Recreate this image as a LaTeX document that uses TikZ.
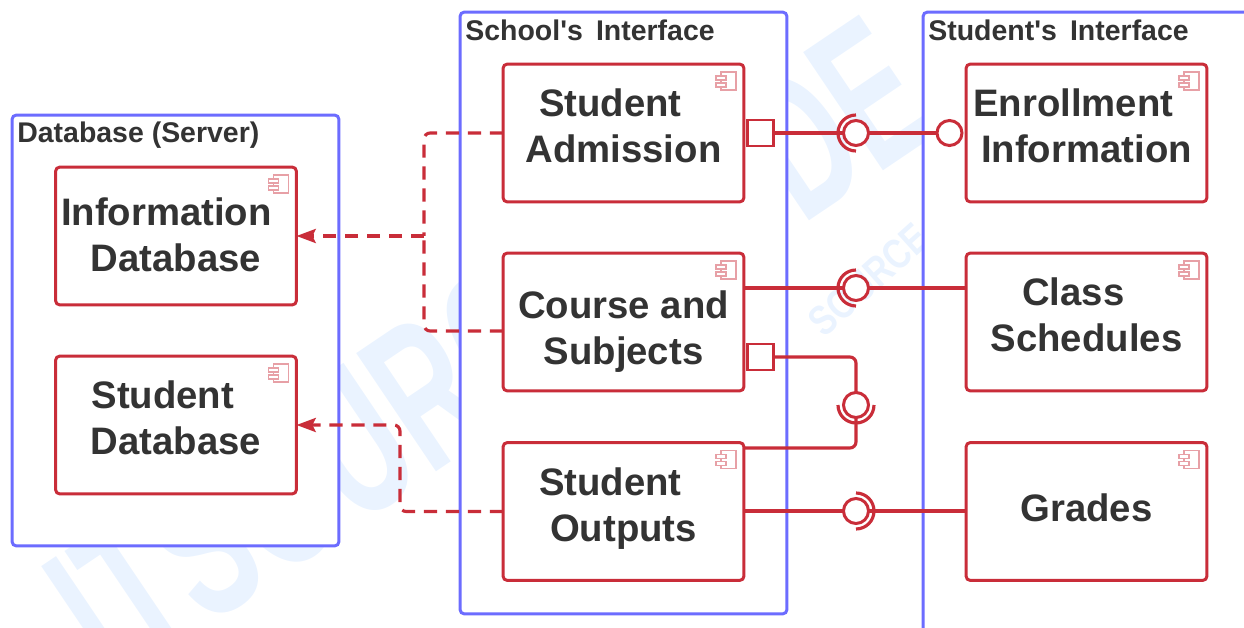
\documentclass[tikz,border=0pt]{standalone}
\usepackage{fontspec}
\setmainfont{Liberation Sans}
\usetikzlibrary{arrows.meta}
\definecolor{compred}{HTML}{C92D39}
\definecolor{frameblue}{HTML}{6C6CFF}
\definecolor{labelgrey}{HTML}{333333}
\definecolor{markblue}{HTML}{EAF3FF}

\begin{document}
\begin{tikzpicture}[x=0.02cm, y=-0.02cm,
    container/.style={
        rectangle,
        rounded corners=2.5pt,
        draw=frameblue,
        line width=1.7pt,
        fill=white,
        outer sep=0pt
    },
    comp_box/.style={
        rectangle,
        rounded corners=2.5pt,
        draw=compred,
        line width=1.7pt,
        fill=white,
        outer sep=0pt,
        minimum width=4.82cm,
        minimum height=2.76cm
    },
    comp_text/.style={
        font=\fontsize{21.8}{26}\selectfont\bfseries,
        text=labelgrey,
        align=center
    },
    frame_text/.style={
        font=\fontsize{16.2}{19}\selectfont\bfseries,
        text=labelgrey,
        anchor=west,
        inner sep=0pt
    },
    port/.style={
        rectangle,
        draw=compred,
        line width=1.7pt,
        fill=white,
        outer sep=0pt,
        minimum size=0.52cm
    },
    ball/.style={
        circle,
        draw=compred,
        line width=1.7pt,
        fill=white,
        outer sep=0pt,
        inner sep=0pt,
        minimum size=0.5cm
    },
    wire/.style={draw=compred, line width=1.8pt, rounded corners=3.5pt},
    depends/.style={wire, dash pattern=on 7.5pt off 5pt},
    watermark/.style={
        text=markblue,
        font=\bfseries,
        inner sep=0pt
    }
]
    \clip (0, 0) rectangle (1244, 628);
    \useasboundingbox (0, 0) rectangle (1244, 628);

    % watermark behind everything
    \node (mark_large) [watermark, shift={(490, 350)}, rotate=34, xscale=0.6]
    {
        \fontsize{118}{118}\selectfont ITSOURCECODE
    };
    \node (mark_small) [watermark, shift={(815, 328)}, anchor=west, rotate=42, xscale=0.8]
    {
        \fontsize{24}{24}\selectfont SOURCE CODE
    };

    % frames
    \node (database_frame) [container, shift={(175.5, 330.5)}, minimum width=6.54cm, minimum height=8.62cm] {};
    \node (school_frame) [container, shift={(623.5, 313)}, minimum width=6.54cm, minimum height=12.04cm] {};
    \node (student_frame) [container, shift={(1150, 350)}, minimum width=9.08cm, minimum height=13.52cm] {};
    \node (database_label) [frame_text, shift={(17, 135)}] {Database (Server)};
    \node (school_label) [frame_text, shift={(465, 30)}] {School\textquotesingle s\hspace{3pt} Interface};
    \node (student_label) [frame_text, shift={(928, 30)}] {Student\textquotesingle s\hspace{3pt} Interface};

    % components
    \node (information_database) [comp_box, shift={(176, 236)},
        label={[comp_text, yshift=0.5pt]center:{Information\hspace*{11pt}\\Database}}] {};
    \node (student_database) [comp_box, shift={(176, 425)},
        label={[comp_text, yshift=4pt]center:{Student\hspace*{15pt}\\Database}}] {};
    \node (student_admission) [comp_box, shift={(623.5, 133)},
        label={[comp_text, yshift=4pt]center:{Student\hspace*{15pt}\\Admission}}] {};
    \node (course_subjects) [comp_box, shift={(623.5, 322)},
        label={[comp_text, yshift=-5.5pt]center:{Course and\\Subjects}}] {};
    \node (student_outputs) [comp_box, shift={(623.5, 511.5)},
        label={[comp_text, yshift=1.7pt]center:{Student\hspace*{15pt}\\Outputs}}] {};
    \node (enrollment_information) [comp_box, shift={(1086.5, 133)},
        label={[comp_text, yshift=4pt]center:{Enrollment\hspace*{15pt}\\Information}}] {};
    \node (class_schedules) [comp_box, shift={(1086.5, 322)},
        label={[comp_text, yshift=4pt]center:{Class\hspace*{15pt}\\Schedules}}] {};
    \node (grades) [comp_box, shift={(1086.5, 511.5)},
        label={[comp_text, yshift=2pt]center:{Grades}}] {};

    % component icons
    \foreach \comp in {information_database, student_database, student_admission,
        course_subjects, student_outputs, enrollment_information, class_schedules, grades}
    {
        \begin{scope}[shift={(\comp.north east)}, draw=compred!45, line width=0.6pt]
            \draw (-23, 8) rectangle (-8, 26);
            \draw[fill=white] (-28, 12) rectangle (-18, 16);
            \draw[fill=white] (-28, 19) rectangle (-18, 23);
        \end{scope}
    }

    % interfaces
    \node (admission_port) [port, shift={(760, 133)}] {};
    \node (subjects_port) [port, shift={(760, 357)}] {};
    \node (admission_ball) [ball, shift={(856, 133)}] {};
    \node (enrollment_ball) [ball, shift={(949.5, 133)}] {};
    \node (class_ball) [ball, shift={(856, 288)}] {};
    \node (subjects_ball) [ball, shift={(856, 405)}] {};
    \node (grades_ball) [ball, shift={(856, 511)}] {};

    \foreach \socket/\from in {admission_ball/-90, class_ball/-90, subjects_ball/180, grades_ball/90}
    {
        \draw[wire] (\socket.center) ++(\from:18) arc[start angle=\from, delta angle=-180, radius=18];
    }

    \draw[wire] (admission_port) -- (admission_ball);
    \draw[wire] (admission_ball) -- (enrollment_ball);
    \draw[wire] (course_subjects.east |- class_ball) -- (class_ball);
    \draw[wire] (class_ball) -- (class_schedules.west |- class_ball);
    \draw[wire] (subjects_port) -| (subjects_ball);
    \draw[wire] (subjects_ball) |- (course_subjects.east |- 0, 448);
    \draw[wire] (student_outputs.east |- grades_ball) -- (grades_ball);
    \draw[wire] (grades_ball) -- (grades.west |- grades_ball);

    % dependencies
    \coordinate (database_joint) at (424, 236);
    \coordinate (outputs_joint) at (400, 425);
    \draw[depends] (student_admission.west) -| (database_joint);
    \draw[depends] (course_subjects.west |- 0, 331) -| (database_joint);
    \draw[depends, -{Stealth[length=11pt, width=8pt, inset=2pt]}] (database_joint) -- (information_database.east);
    \draw[depends, -{Stealth[length=11pt, width=8pt, inset=2pt]}] (student_outputs.west) -| (outputs_joint) -- (student_database.east);
\end{tikzpicture}
\end{document}
